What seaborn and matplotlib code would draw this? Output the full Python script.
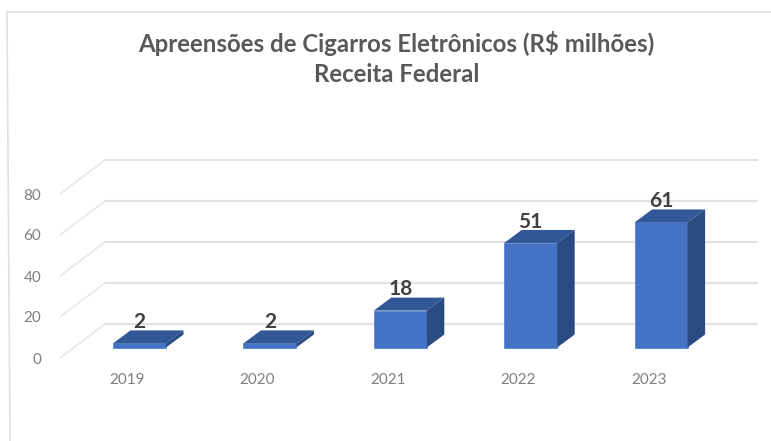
import matplotlib
matplotlib.use("Agg")
import matplotlib.pyplot as plt
from matplotlib.lines import Line2D
from matplotlib.patches import Polygon
from matplotlib.transforms import ScaledTranslation
import pandas as pd
import seaborn as sns

years = ["2019", "2020", "2021", "2022", "2023"]
values = [2, 2, 18, 51, 61]
grid_values = [0, 20, 40, 60, 80]
title = "Apreensões de Cigarros Eletrônicos (R$ milhões)\nReceita Federal"

W, H = 771, 441
PX_X = 130.4   # px per category
PX_Y = 2.05    # px per unit
LEFT, RIGHT, TOP, BOTTOM = 60, 758, 150, 358
ZERO_PX = 347.5
FIRST_PX = 139.5

sns.set_theme(style="white")
plt.rcParams["font.family"] = ["Lato", "DejaVu Sans"]

fig = plt.figure(figsize=(W / 100, H / 100), dpi=100, facecolor="white")
ax = fig.add_axes([LEFT / W, 1 - BOTTOM / H, (RIGHT - LEFT) / W, (BOTTOM - TOP) / H])
df = pd.DataFrame({"ano": years, "valor": values})
sns.barplot(data=df, x="ano", y="valor", color="#4472C4", saturation=1,
            width=53 / PX_X, ax=ax, zorder=3, edgecolor="#5B86D2", linewidth=0.6)

x0 = (LEFT - FIRST_PX) / PX_X
x1 = (RIGHT - FIRST_PX) / PX_X
y0 = (ZERO_PX - BOTTOM) / PX_Y
y1 = (ZERO_PX - TOP) / PX_Y
ax.set_xlim(x0, x1)
ax.set_ylim(y0, y1)
ax.set_xlabel("")
ax.set_ylabel("")
ax.patch.set_alpha(0)
for s in ax.spines.values():
    s.set_visible(False)

# floor depth: front-left corner of the grid to the back wall
floor_dx, floor_dy = 45 / PX_X, 34 / PX_Y
for v in grid_values:
    base = v + y0
    ax.plot([x0, x0 + floor_dx], [base, base + floor_dy], color="#E6E6E6", lw=1.1, zorder=1,
            solid_capstyle="butt", clip_on=False)
    ax.plot([x0 + floor_dx, x1], [base + floor_dy] * 2, color="#E2E2E2", lw=1.5, zorder=1,
            solid_capstyle="butt", clip_on=False)

# 3-D faces derived from each bar
dx, dy = 17.5 / PX_X, 13 / PX_Y
container = ax.containers[0]
for p in container:
    l, r = p.get_x(), p.get_x() + p.get_width()
    b, t = p.get_y(), p.get_y() + p.get_height()
    ax.add_patch(Polygon([(l, t), (r, t), (r + dx, t + dy), (l + dx, t + dy)],
                         closed=True, fc="#325796", ec="none", zorder=3))
    ax.add_patch(Polygon([(r, b), (r + dx, b + dy), (r + dx, t + dy), (r, t)],
                         closed=True, fc="#2A4A82", ec="none", zorder=3))

ax.bar_label(container, padding=8, fontsize=15, fontweight="bold", color="#404040", zorder=5)

# ticks
ax.set_yticks(grid_values)
ax.tick_params(axis="both", length=0, colors="#7F7F7F", labelsize=11)
ax.tick_params(axis="y", pad=13.5)
ax.tick_params(axis="x", pad=11)
ax.grid(False)
y_shift = ScaledTranslation(0, -10.5 / 72 * 0.72, fig.dpi_scale_trans)
x_shift = ScaledTranslation(-12.5 / 72 * 0.72, 0, fig.dpi_scale_trans)
for lab in ax.get_yticklabels():
    lab.set_transform(lab.get_transform() + y_shift)
for lab in ax.get_xticklabels():
    lab.set_transform(lab.get_transform() + x_shift)

fig.text(396.5 / W, 1 - 43 / H, title.split("\n")[0], ha="center", va="center",
         fontsize=17.3, fontweight="bold", color="#595959")
fig.text(396.5 / W, 1 - 74.5 / H, title.split("\n")[1], ha="center", va="center",
         fontsize=17.3, fontweight="bold", color="#595959")

# chart frame
fig.add_artist(Line2D([7 / W, 10 / W], [1 - 12 / H, 0], color="#E0E0E0", lw=1.2))
fig.add_artist(Line2D([7 / W, 1], [1 - 12 / H, 1 - 12 / H], color="#E0E0E0", lw=1.2))

fig.savefig("out.png", dpi=100)
